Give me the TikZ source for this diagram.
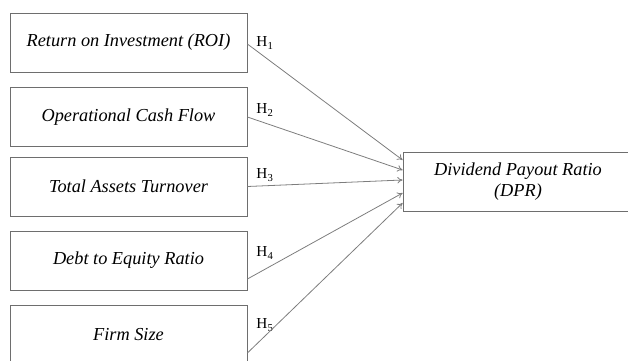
\documentclass[tikz,border=0pt]{standalone}
\usepackage{fontspec}
\setmainfont{Liberation Serif}
\usetikzlibrary{arrows.meta,calc}
\definecolor{boxgray}{RGB}{110,110,110}
\definecolor{arrowgray}{RGB}{125,125,125}
\begin{document}
\begin{tikzpicture}[x=0.0265cm,y=-0.0265cm]
    \tikzset{varbox/.style={draw=boxgray,line width=0.6pt,minimum width=237*0.0265cm,minimum height=59*0.0265cm,inner sep=0pt,align=center,font=\fontsize{13.8}{15.5}\selectfont\itshape}}
    \tikzset{hyp/.style={font=\fontsize{11.5}{13}\selectfont,inner sep=0pt}}
    \tikzset{link/.style={draw=arrowgray,line width=0.6pt,-{To[length=4pt,width=5pt]}}}
    \useasboundingbox (0,0) rectangle (628,361);
    \clip (0,0) rectangle (628,361);
    \node[varbox] (roi) at (128.5,42.5) {Return on Investment (ROI)};
    \node[varbox] (ocf) at (128.5,117) {Operational Cash Flow};
    \node[varbox] (tat) at (128.5,186.5) {Total Assets Turnover};
    \node[varbox] (der) at (128.5,260.5) {Debt to Equity Ratio};
    \node[varbox] (size) at (128.5,335) {Firm Size};
    \node[varbox,minimum width=230*0.0265cm] (dpr) at (518,181.5) {Dividend Payout Ratio\\(DPR)};
    \node[hyp] (h1) at (265,43) {H\textsubscript{1}};
    \node[hyp] (h2) at (265,110) {H\textsubscript{2}};
    \node[hyp] (h3) at (265,175) {H\textsubscript{3}};
    \node[hyp] (h4) at (265,253) {H\textsubscript{4}};
    \node[hyp] (h5) at (265,325) {H\textsubscript{5}};
    \draw[link] ($(roi.east)+(0,1.5)$) -- ($(dpr.west)+(0,-21.5)$);
    \draw[link] (ocf.east) -- ($(dpr.west)+(0,-11.5)$);
    \draw[link] (tat.east) -- ($(dpr.west)+(0,-1.5)$);
    \draw[link] ($(der.east)+(0,18.5)$) -- ($(dpr.west)+(0,11.5)$);
    \draw[link] ($(size.east)+(0,18)$) -- ($(dpr.west)+(0,21.5)$);
\end{tikzpicture}
\end{document}
